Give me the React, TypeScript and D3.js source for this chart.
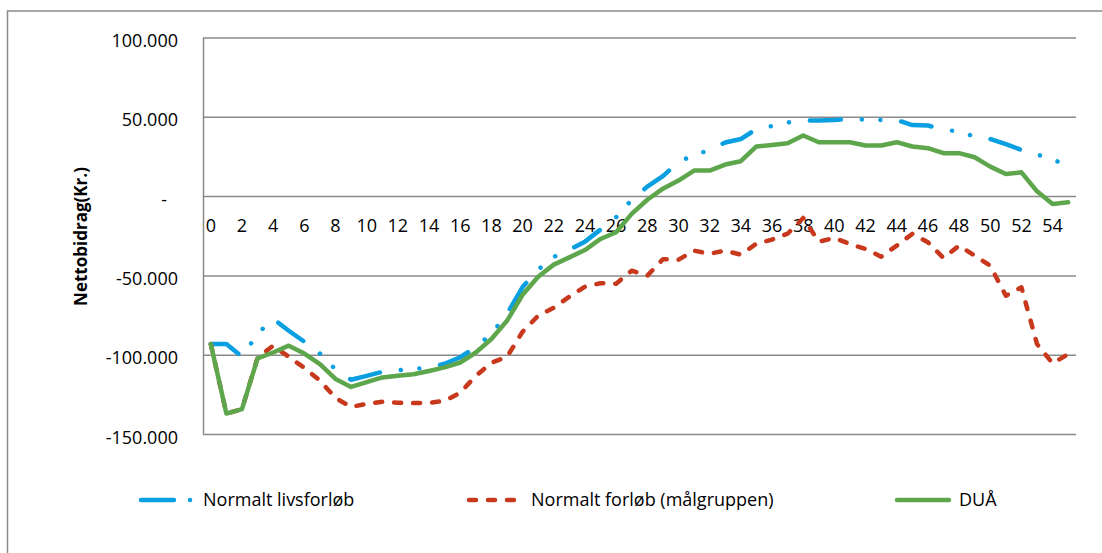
import React from "react";
import * as d3 from "d3";

const categories: number[] = d3.range(0, 56);

const normaltLivsforloeb: number[] = [
  -93000, -93000, -101000, -86500, -77000, -84600, -91500, -99000, -109000, -115500,
  -113000, -110500, -109500, -108600, -108000, -105400, -101300, -95000, -86500, -74000,
  -57000, -46000, -38000, -33500, -28400, -20800, -13000, -2000, 6300, 12900,
  21800, 26200, 29400, 34100, 36300, 42600, 44500, 46700, 48000, 48000,
  48300, 48900, 48600, 48300, 48300, 45100, 44800, 42300, 41000, 37900,
  36300, 33100, 29400, 26500, 23700, 18900,
];

const normaltForloebMaalgruppen: number[] = [
  -93000, -136800, -134000, -101600, -94000, -101000, -108000, -116000, -127000, -132600,
  -130700, -129400, -130000, -130200, -130000, -128800, -123700, -113000, -104800, -101000,
  -85200, -75100, -70100, -63100, -56800, -54600, -54900, -46700, -49900, -39500,
  -39800, -34100, -36000, -34100, -36600, -29700, -27100, -23400, -13500, -28400,
  -26100, -29900, -33000, -37900, -30900, -23500, -28800, -38700, -30900, -37200,
  -43600, -62500, -57200, -93000, -105200, -99300,
];

const duaa: number[] = [
  -93000, -136800, -134000, -102000, -98300, -94000, -99000, -105600, -115000, -120000,
  -117000, -114000, -113000, -112000, -110000, -107700, -104600, -98300, -89800, -78300,
  -61900, -50500, -42900, -38300, -33700, -26700, -22500, -10900, -2000, 5000,
  10100, 16400, 16400, 20200, 22300, 31600, 32600, 33600, 38500, 34300,
  34300, 34300, 32200, 32200, 34300, 31600, 30500, 27400, 27400, 24800,
  18900, 14300, 15300, 3300, -4600, -3600,
];

const yTicks: number[] = [100000, 50000, 0, -50000, -100000, -150000];
const yTickLabels: string[] = ["100.000", "50.000", "-", "-50.000", "-100.000", "-150.000"];
const xTickLabels: string[] = categories.filter((c) => c % 2 === 0).map(String);

const seriesNames: string[] = ["Normalt livsforløb", "Normalt forløb (målgruppen)", "DUÅ"];
const seriesColors: string[] = ["#0A9FE0", "#C8381C", "#5DA64B"];
const seriesDash: string[] = ["31 21 0.01 18.6 0.01 21", "7 12", "none"];

const FONT = "'Open Sans', 'Noto Sans', sans-serif";

export default function App() {
  const x = d3.scaleBand<number>().domain(categories).range([203, 1076]).padding(0);
  const y = d3.scaleLinear().domain([-150000, 100000]).range([434.5, 38]);
  const cx = (c: number) => (x(c) as number) + x.bandwidth() / 2;

  const line = d3
    .line<number>()
    .x((_, i) => cx(categories[i]))
    .y((d) => y(d));

  const allSeries = [normaltLivsforloeb, normaltForloebMaalgruppen, duaa];
  const legendX = [141, 469, 897];
  const legendY = 500;

  return (
    <svg
      width={1102}
      height={553}
      style={{ position: "absolute", left: 0, top: 0, background: "#fff" }}
      fontFamily={FONT}
    >
      <rect x={0} y={0} width={1102} height={553} fill="#fff" />
      {/* outer chart frame */}
      <rect x={7.5} y={11} width={1110} height={560} fill="none" stroke="#8a8a8a" strokeWidth={1.5} />

      {/* gridlines */}
      {yTicks.map((t) => (
        <line key={t} x1={203} x2={1076} y1={y(t)} y2={y(t)} stroke="#8a8a8a" strokeWidth={1.5} />
      ))}
      <line x1={203.5} x2={203.5} y1={y(100000)} y2={y(-150000)} stroke="#8a8a8a" strokeWidth={1.5} />

      {/* y tick labels */}
      {yTicks.map((t, i) => (
        <text
          key={"yl" + t}
          x={t === 0 ? 167 : 178}
          y={y(t) + 9}
          textAnchor="end"
          fontSize={18}
          fill="#000"
        >
          {yTickLabels[i]}
        </text>
      ))}

      {/* x tick labels */}
      {xTickLabels.map((lab) => (
        <text key={"xl" + lab} x={cx(+lab)} y={232} textAnchor="middle" fontSize={18} fill="#000">
          {lab}
        </text>
      ))}

      {/* y axis title */}
      <text
        transform={`translate(87,236.5) rotate(-90)`}
        textAnchor="middle"
        fontSize={17}
        fontWeight="bold"
        fill="#000"
      >
        Nettobidrag(Kr.)
      </text>

      {/* series */}
      {allSeries.map((s, i) => (
        <path
          key={"s" + i}
          d={line(s) || ""}
          fill="none"
          stroke={seriesColors[i]}
          strokeWidth={4.5}
          strokeLinejoin="round"
          strokeLinecap="round"
          strokeDasharray={seriesDash[i]}
        />
      ))}

      {/* legend */}
      {seriesNames.map((name, i) => (
        <g key={"lg" + i}>
          <line
            x1={legendX[i]}
            x2={legendX[i] + 52}
            y1={legendY}
            y2={legendY}
            stroke={seriesColors[i]}
            strokeWidth={4.5}
            strokeLinecap="round"
            strokeDasharray={i === 0 ? "33 16 0.01 30" : seriesDash[i]}
          />
          <text x={legendX[i] + 62} y={legendY + 6} fontSize={18} fill="#000">
            {name}
          </text>
        </g>
      ))}
    </svg>
  );
}
